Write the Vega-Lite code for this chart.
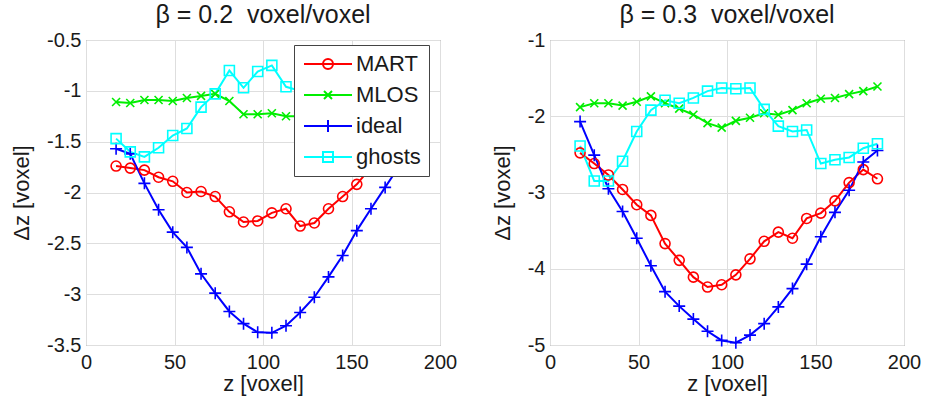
{
  "$schema": "https://vega.github.io/schema/vega-lite/v6.json",
  "background": "white",
  "padding": {"left": 10, "top": 2, "right": 5, "bottom": 2},
  "config": {
    "font": "Liberation Sans",
    "view": {"stroke": "#707070", "strokeWidth": 1},
    "axis": {
      "labelFontSize": 20, "titleFontSize": 22, "titleFontWeight": "normal",
      "labelColor": "#1a1a1a", "titleColor": "#1a1a1a",
      "gridColor": "#dedede", "gridWidth": 1, "domain": false, "ticks": false,
      "labelPadding": 5, "labelFlush": false, "labelOverlap": false, "labelBound": false
    },
    "axisY": {"titlePadding": 13},
    "axisX": {"titlePadding": 1, "labelPadding": 7},
    "title": {"fontSize": 25, "fontWeight": "normal", "color": "#1a1a1a", "offset": 2},
    "concat": {"spacing": 32},
    "point": {"filled": false, "strokeWidth": 1.6, "size": 100, "opacity": 1},
    "legend": {"orient": "none", "legendX": 208, "legendY": 5, "zindex": 5, "title": null, "strokeColor": "#444444", "fillColor": "white", "padding": 8, "labelFontSize": 22, "labelColor": "#1a1a1a", "symbolSize": 100, "symbolStrokeWidth": 2, "symbolOffset": 15, "labelOffset": 17, "rowPadding": 9}
  },
  "resolve": {"scale": {"color": "shared"}, "legend": {"color": "shared"}},
  "datasets": {
    "d": [
      {"p":"L","s":"MART","z":17,"dz":-1.74},{"p":"L","s":"MART","z":25,"dz":-1.76},{"p":"L","s":"MART","z":33,"dz":-1.78},{"p":"L","s":"MART","z":41,"dz":-1.85},{"p":"L","s":"MART","z":49,"dz":-1.89},{"p":"L","s":"MART","z":57,"dz":-2.0},{"p":"L","s":"MART","z":65,"dz":-1.99},{"p":"L","s":"MART","z":73,"dz":-2.04},{"p":"L","s":"MART","z":81,"dz":-2.19},{"p":"L","s":"MART","z":89,"dz":-2.29},{"p":"L","s":"MART","z":97,"dz":-2.28},{"p":"L","s":"MART","z":105,"dz":-2.2},{"p":"L","s":"MART","z":113,"dz":-2.16},{"p":"L","s":"MART","z":121,"dz":-2.33},{"p":"L","s":"MART","z":129,"dz":-2.3},{"p":"L","s":"MART","z":137,"dz":-2.16},{"p":"L","s":"MART","z":145,"dz":-2.04},{"p":"L","s":"MART","z":153,"dz":-1.92},{"p":"L","s":"MART","z":161,"dz":-1.75},{"p":"L","s":"MART","z":169,"dz":-1.6},{"p":"L","s":"MART","z":177,"dz":-1.5},{"p":"L","s":"MART","z":185,"dz":-1.45},
      {"p":"L","s":"MLOS","z":17,"dz":-1.11},{"p":"L","s":"MLOS","z":25,"dz":-1.12},{"p":"L","s":"MLOS","z":33,"dz":-1.09},{"p":"L","s":"MLOS","z":41,"dz":-1.09},{"p":"L","s":"MLOS","z":49,"dz":-1.1},{"p":"L","s":"MLOS","z":57,"dz":-1.07},{"p":"L","s":"MLOS","z":65,"dz":-1.05},{"p":"L","s":"MLOS","z":73,"dz":-1.03},{"p":"L","s":"MLOS","z":81,"dz":-1.1},{"p":"L","s":"MLOS","z":89,"dz":-1.23},{"p":"L","s":"MLOS","z":97,"dz":-1.23},{"p":"L","s":"MLOS","z":105,"dz":-1.22},{"p":"L","s":"MLOS","z":113,"dz":-1.25},{"p":"L","s":"MLOS","z":121,"dz":-1.25},{"p":"L","s":"MLOS","z":129,"dz":-1.24},{"p":"L","s":"MLOS","z":137,"dz":-1.22},{"p":"L","s":"MLOS","z":145,"dz":-1.2},{"p":"L","s":"MLOS","z":153,"dz":-1.18},{"p":"L","s":"MLOS","z":161,"dz":-1.15},{"p":"L","s":"MLOS","z":169,"dz":-1.12},{"p":"L","s":"MLOS","z":177,"dz":-1.1},{"p":"L","s":"MLOS","z":185,"dz":-1.08},
      {"p":"L","s":"ideal","z":17,"dz":-1.57},{"p":"L","s":"ideal","z":25,"dz":-1.62},{"p":"L","s":"ideal","z":33,"dz":-1.91},{"p":"L","s":"ideal","z":41,"dz":-2.17},{"p":"L","s":"ideal","z":49,"dz":-2.39},{"p":"L","s":"ideal","z":57,"dz":-2.54},{"p":"L","s":"ideal","z":65,"dz":-2.8},{"p":"L","s":"ideal","z":73,"dz":-2.99},{"p":"L","s":"ideal","z":81,"dz":-3.17},{"p":"L","s":"ideal","z":89,"dz":-3.29},{"p":"L","s":"ideal","z":97,"dz":-3.375},{"p":"L","s":"ideal","z":105,"dz":-3.38},{"p":"L","s":"ideal","z":113,"dz":-3.31},{"p":"L","s":"ideal","z":121,"dz":-3.18},{"p":"L","s":"ideal","z":129,"dz":-3.03},{"p":"L","s":"ideal","z":137,"dz":-2.83},{"p":"L","s":"ideal","z":145,"dz":-2.62},{"p":"L","s":"ideal","z":153,"dz":-2.375},{"p":"L","s":"ideal","z":161,"dz":-2.16},{"p":"L","s":"ideal","z":169,"dz":-1.95},{"p":"L","s":"ideal","z":177,"dz":-1.74},{"p":"L","s":"ideal","z":185,"dz":-1.56},
      {"p":"L","s":"ghosts","z":17,"dz":-1.47},{"p":"L","s":"ghosts","z":25,"dz":-1.6},{"p":"L","s":"ghosts","z":33,"dz":-1.65},{"p":"L","s":"ghosts","z":41,"dz":-1.56},{"p":"L","s":"ghosts","z":49,"dz":-1.44},{"p":"L","s":"ghosts","z":57,"dz":-1.37},{"p":"L","s":"ghosts","z":65,"dz":-1.16},{"p":"L","s":"ghosts","z":73,"dz":-1.03},{"p":"L","s":"ghosts","z":81,"dz":-0.8},{"p":"L","s":"ghosts","z":89,"dz":-0.97},{"p":"L","s":"ghosts","z":97,"dz":-0.81},{"p":"L","s":"ghosts","z":105,"dz":-0.75},{"p":"L","s":"ghosts","z":113,"dz":-0.96},{"p":"L","s":"ghosts","z":121,"dz":-1.0},{"p":"L","s":"ghosts","z":129,"dz":-1.15},{"p":"L","s":"ghosts","z":137,"dz":-1.25},{"p":"L","s":"ghosts","z":145,"dz":-1.3},{"p":"L","s":"ghosts","z":153,"dz":-1.35},{"p":"L","s":"ghosts","z":161,"dz":-1.4},{"p":"L","s":"ghosts","z":169,"dz":-1.45},{"p":"L","s":"ghosts","z":177,"dz":-1.5},{"p":"L","s":"ghosts","z":185,"dz":-1.5},
      {"p":"R","s":"MART","z":17,"dz":-2.48},{"p":"R","s":"MART","z":25,"dz":-2.62},{"p":"R","s":"MART","z":33,"dz":-2.77},{"p":"R","s":"MART","z":41,"dz":-2.96},{"p":"R","s":"MART","z":49,"dz":-3.16},{"p":"R","s":"MART","z":57,"dz":-3.3},{"p":"R","s":"MART","z":65,"dz":-3.67},{"p":"R","s":"MART","z":73,"dz":-3.89},{"p":"R","s":"MART","z":81,"dz":-4.11},{"p":"R","s":"MART","z":89,"dz":-4.24},{"p":"R","s":"MART","z":97,"dz":-4.21},{"p":"R","s":"MART","z":105,"dz":-4.08},{"p":"R","s":"MART","z":113,"dz":-3.87},{"p":"R","s":"MART","z":121,"dz":-3.64},{"p":"R","s":"MART","z":129,"dz":-3.52},{"p":"R","s":"MART","z":137,"dz":-3.6},{"p":"R","s":"MART","z":145,"dz":-3.34},{"p":"R","s":"MART","z":153,"dz":-3.27},{"p":"R","s":"MART","z":161,"dz":-3.11},{"p":"R","s":"MART","z":169,"dz":-2.87},{"p":"R","s":"MART","z":177,"dz":-2.7},{"p":"R","s":"MART","z":185,"dz":-2.82},
      {"p":"R","s":"MLOS","z":17,"dz":-1.88},{"p":"R","s":"MLOS","z":25,"dz":-1.83},{"p":"R","s":"MLOS","z":33,"dz":-1.83},{"p":"R","s":"MLOS","z":41,"dz":-1.86},{"p":"R","s":"MLOS","z":49,"dz":-1.81},{"p":"R","s":"MLOS","z":57,"dz":-1.74},{"p":"R","s":"MLOS","z":65,"dz":-1.83},{"p":"R","s":"MLOS","z":73,"dz":-1.9},{"p":"R","s":"MLOS","z":81,"dz":-1.98},{"p":"R","s":"MLOS","z":89,"dz":-2.09},{"p":"R","s":"MLOS","z":97,"dz":-2.15},{"p":"R","s":"MLOS","z":105,"dz":-2.06},{"p":"R","s":"MLOS","z":113,"dz":-2.02},{"p":"R","s":"MLOS","z":121,"dz":-1.96},{"p":"R","s":"MLOS","z":129,"dz":-1.98},{"p":"R","s":"MLOS","z":137,"dz":-1.92},{"p":"R","s":"MLOS","z":145,"dz":-1.83},{"p":"R","s":"MLOS","z":153,"dz":-1.77},{"p":"R","s":"MLOS","z":161,"dz":-1.76},{"p":"R","s":"MLOS","z":169,"dz":-1.71},{"p":"R","s":"MLOS","z":177,"dz":-1.67},{"p":"R","s":"MLOS","z":185,"dz":-1.61},
      {"p":"R","s":"ideal","z":17,"dz":-2.07},{"p":"R","s":"ideal","z":25,"dz":-2.51},{"p":"R","s":"ideal","z":33,"dz":-2.95},{"p":"R","s":"ideal","z":41,"dz":-3.25},{"p":"R","s":"ideal","z":49,"dz":-3.6},{"p":"R","s":"ideal","z":57,"dz":-3.96},{"p":"R","s":"ideal","z":65,"dz":-4.3},{"p":"R","s":"ideal","z":73,"dz":-4.49},{"p":"R","s":"ideal","z":81,"dz":-4.66},{"p":"R","s":"ideal","z":89,"dz":-4.82},{"p":"R","s":"ideal","z":97,"dz":-4.94},{"p":"R","s":"ideal","z":105,"dz":-4.97},{"p":"R","s":"ideal","z":113,"dz":-4.87},{"p":"R","s":"ideal","z":121,"dz":-4.72},{"p":"R","s":"ideal","z":129,"dz":-4.5},{"p":"R","s":"ideal","z":137,"dz":-4.26},{"p":"R","s":"ideal","z":145,"dz":-3.94},{"p":"R","s":"ideal","z":153,"dz":-3.58},{"p":"R","s":"ideal","z":161,"dz":-3.26},{"p":"R","s":"ideal","z":169,"dz":-2.97},{"p":"R","s":"ideal","z":177,"dz":-2.6},{"p":"R","s":"ideal","z":185,"dz":-2.45},
      {"p":"R","s":"ghosts","z":17,"dz":-2.39},{"p":"R","s":"ghosts","z":25,"dz":-2.85},{"p":"R","s":"ghosts","z":33,"dz":-2.85},{"p":"R","s":"ghosts","z":41,"dz":-2.59},{"p":"R","s":"ghosts","z":49,"dz":-2.2},{"p":"R","s":"ghosts","z":57,"dz":-1.92},{"p":"R","s":"ghosts","z":65,"dz":-1.79},{"p":"R","s":"ghosts","z":73,"dz":-1.83},{"p":"R","s":"ghosts","z":81,"dz":-1.76},{"p":"R","s":"ghosts","z":89,"dz":-1.67},{"p":"R","s":"ghosts","z":97,"dz":-1.63},{"p":"R","s":"ghosts","z":105,"dz":-1.64},{"p":"R","s":"ghosts","z":113,"dz":-1.63},{"p":"R","s":"ghosts","z":121,"dz":-1.91},{"p":"R","s":"ghosts","z":129,"dz":-2.13},{"p":"R","s":"ghosts","z":137,"dz":-2.2},{"p":"R","s":"ghosts","z":145,"dz":-2.18},{"p":"R","s":"ghosts","z":153,"dz":-2.62},{"p":"R","s":"ghosts","z":161,"dz":-2.57},{"p":"R","s":"ghosts","z":169,"dz":-2.54},{"p":"R","s":"ghosts","z":177,"dz":-2.42},{"p":"R","s":"ghosts","z":185,"dz":-2.36}
    ]
  },
  "hconcat": [
    {
      "width": 354, "height": 305,
      "title": {"text": "β = 0.2 \u00a0voxel/voxel"},
      "data": {"name": "d"},
      "transform": [{"filter": "datum.p === 'L'"}],
      "encoding": {
        "x": {"field": "z", "type": "quantitative", "scale": {"domain": [0, 200], "nice": false}, "axis": {"values": [0, 50, 100, 150, 200], "title": "z [voxel]"}},
        "y": {"field": "dz", "type": "quantitative", "scale": {"domain": [-3.5, -0.5], "nice": false, "zero": false}, "axis": {"values": [-3.5, -3, -2.5, -2, -1.5, -1, -0.5], "labelExpr": "datum.value + ''", "title": "Δz [voxel]"}},
        "color": {"field": "s", "type": "nominal", "scale": {"domain": ["MART", "MLOS", "ideal", "ghosts"], "range": ["#ff0000", "#00ee00", "#0000ff", "#00ffff"]},
          "legend": {"encode": {"symbols": {"update": {"shape": {"signal": "datum.value === 'MART' ? 'M-4.8,0L4.8,0M1,0A1,1 0 1,1 -1,0A1,1 0 1,1 1,0' : datum.value === 'MLOS' ? 'M-4.8,0L4.8,0M-0.8,-0.8L0.8,0.8M-0.8,0.8L0.8,-0.8' : datum.value === 'ideal' ? 'M-4.8,0L4.8,0M0,-1.2L0,1.2' : 'M-4.8,0L4.8,0M-1,-1L1,-1L1,1L-1,1Z'"}, "strokeWidth": {"value": 2}}}}}}
      },
      "layer": [
        {"mark": {"type": "line", "strokeWidth": 2}},
        {"transform": [{"filter": "datum.s === 'MART'"}], "mark": {"type": "point", "shape": "circle"}},
        {"transform": [{"filter": "datum.s === 'MLOS'"}], "mark": {"type": "point", "shape": "M-0.8,-0.8L0.8,0.8M-0.8,0.8L0.8,-0.8"}},
        {"transform": [{"filter": "datum.s === 'ideal'"}], "mark": {"type": "point", "shape": "M-1.2,0L1.2,0M0,-1.2L0,1.2"}},
        {"transform": [{"filter": "datum.s === 'ghosts'"}], "mark": {"type": "point", "shape": "square"}}
      ]
    },
    {
      "width": 354, "height": 305,
      "title": {"text": "β = 0.3 \u00a0voxel/voxel"},
      "data": {"name": "d"},
      "transform": [{"filter": "datum.p === 'R'"}],
      "encoding": {
        "x": {"field": "z", "type": "quantitative", "scale": {"domain": [0, 200], "nice": false}, "axis": {"values": [0, 50, 100, 150, 200], "title": "z [voxel]"}},
        "y": {"field": "dz", "type": "quantitative", "scale": {"domain": [-5, -1], "nice": false, "zero": false}, "axis": {"values": [-5, -4, -3, -2, -1], "labelExpr": "datum.value + ''", "title": "Δz [voxel]"}},
        "color": {"field": "s", "type": "nominal", "scale": {"domain": ["MART", "MLOS", "ideal", "ghosts"], "range": ["#ff0000", "#00ee00", "#0000ff", "#00ffff"]},
          "legend": {"encode": {"symbols": {"update": {"shape": {"signal": "datum.value === 'MART' ? 'M-4.8,0L4.8,0M1,0A1,1 0 1,1 -1,0A1,1 0 1,1 1,0' : datum.value === 'MLOS' ? 'M-4.8,0L4.8,0M-0.8,-0.8L0.8,0.8M-0.8,0.8L0.8,-0.8' : datum.value === 'ideal' ? 'M-4.8,0L4.8,0M0,-1.2L0,1.2' : 'M-4.8,0L4.8,0M-1,-1L1,-1L1,1L-1,1Z'"}, "strokeWidth": {"value": 2}}}}}}
      },
      "layer": [
        {"mark": {"type": "line", "strokeWidth": 2}},
        {"transform": [{"filter": "datum.s === 'MART'"}], "mark": {"type": "point", "shape": "circle"}},
        {"transform": [{"filter": "datum.s === 'MLOS'"}], "mark": {"type": "point", "shape": "M-0.8,-0.8L0.8,0.8M-0.8,0.8L0.8,-0.8"}},
        {"transform": [{"filter": "datum.s === 'ideal'"}], "mark": {"type": "point", "shape": "M-1.2,0L1.2,0M0,-1.2L0,1.2"}},
        {"transform": [{"filter": "datum.s === 'ghosts'"}], "mark": {"type": "point", "shape": "square"}}
      ]
    }
  ]
}
